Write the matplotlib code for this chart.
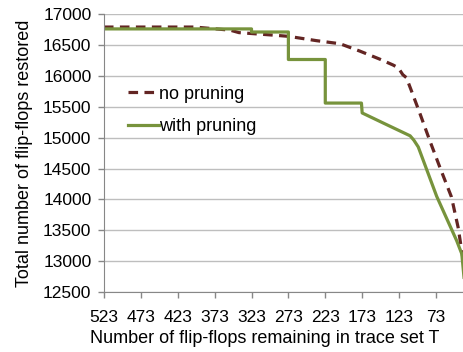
import matplotlib
matplotlib.use('Agg')
import matplotlib.pyplot as plt

plt.rcParams['font.family'] = ['Liberation Sans', 'DejaVu Sans']

# flip-flops remaining in trace set T (x) vs. total restored (y)
no_pruning_x = [523, 400, 352, 340, 294, 273, 235, 203, 176, 149, 131, 124,
                118, 113, 106, 95, 81, 68, 52, 43, 36, 35]
no_pruning_y = [16790, 16790, 16740, 16700, 16660, 16640, 16570, 16520, 16400,
                16270, 16175, 16130, 16020, 15970, 15750, 15400, 14940, 14530,
                14040, 13550, 13010, 12930]

with_pruning_x = [523, 323, 323, 273, 273, 223, 223, 174, 173, 145, 108, 103,
                  97, 72, 45, 38, 35]
with_pruning_y = [16760, 16760, 16710, 16710, 16265, 16265, 15560, 15560,
                  15400, 15240, 15030, 14960, 14850, 14050, 13335, 13120, 12740]

x_ticks = [523, 473, 423, 373, 323, 273, 223, 173, 123, 73]
y_ticks = list(range(12500, 17001, 500))

fig = plt.figure(figsize=(4.64, 3.52), dpi=100)
ax = fig.add_axes([0.224, 0.170, 0.776, 0.790])

ax.plot(no_pruning_x, no_pruning_y, color='#632523', linewidth=2.3,
        dashes=(3, 2), label='no pruning', solid_capstyle='butt')
ax.plot(with_pruning_x, with_pruning_y, color='#77933C', linewidth=2.3,
        label='with pruning')

ax.set_xlim(523, 35)
ax.set_ylim(12500, 17000)
ax.set_xticks(x_ticks)
ax.set_yticks(y_ticks)
ax.tick_params(axis='both', labelsize=12.5, colors='#878787', labelcolor='black',
               length=4, width=1)
ax.tick_params(axis='x', pad=9)
ax.tick_params(axis='y', pad=5)
ax.yaxis.grid(True, color='#BEBEBE', linewidth=1)
ax.set_axisbelow(True)
for side in ['top', 'right']:
    ax.spines[side].set_visible(False)
for side in ['left', 'bottom']:
    ax.spines[side].set_color('#878787')

ax.set_xlabel('Number of flip-flops remaining in trace set T', fontsize=13,
              labelpad=5)
ax.xaxis.set_label_coords(0.447, -0.135)
ax.set_ylabel('Total number of flip-flops restored', fontsize=13, labelpad=7)

ax.legend(loc='upper left', bbox_to_anchor=(0.047, 0.768), frameon=False,
          fontsize=13, handlelength=1.7, handletextpad=0.0,
          labelspacing=0.85, borderaxespad=0)

fig.savefig('out.png', dpi=100)
